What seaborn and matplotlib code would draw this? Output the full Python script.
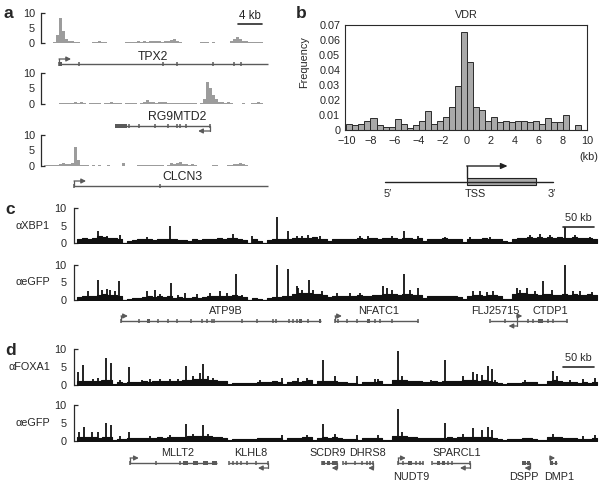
import numpy as np
import pandas as pd
import matplotlib
matplotlib.use("Agg")
import matplotlib.pyplot as plt
from matplotlib.patches import Rectangle
import seaborn as sns

# ---------------- panel a : ChIP signal, 0.5 kb bins ----------------
a_bin = 0.5
tpx2_sig = [0, 0, 0,
            0.3, 2.5, 8.2, 4.0, 1.3, 0.8, 0.5, 0.3, 0.3, 0,
            0, 0, 0, 0.4, 0.3, 0.5, 0.4, 0.3, 0, 0,
            0, 0, 0, 0, 0.3, 0.4, 0.3, 0.4, 0.5, 0.3,
            0.5, 0.4, 0.6, 0.5, 0.8, 0.6, 0.4, 0.7, 0.5, 1.0,
            1.4, 0.6, 0.3, 0, 0, 0, 0, 0, 0, 0.3,
            0.2, 0.3, 0, 0.2, 0, 0, 0, 0, 0, 0.6,
            1.3, 2.0, 1.2, 0.8, 0.5, 0.3, 0.3, 0.2, 0.3, 0.3]
rg9_sig = [0, 0, 0,
           0, 0, 0.2, 0.3, 0.3, 0.4, 0.3, 0.5, 0.4, 0.6,
           0.3, 0, 0.3, 0.4, 0.3, 0.2, 0, 0.3, 0.4, 0.5,
           0.3, 0.4, 0.2, 0, 0.3, 0.4, 0.3, 0.2, 0, 0.3,
           0.5, 1.2, 0.8, 0.5, 0.4, 0.5, 0.7, 0.5, 0.4, 0.3,
           0.4, 0.3, 0.3, 0.4, 0.2, 0.3, 0.3, 0.2, 0, 0.3,
           1.5, 7.0, 5.0, 3.0, 1.5, 0.8, 0.5, 0.4, 0.5, 0.3,
           0, 0, 0, 0.3, 0, 0, 0.3, 0.4, 0.6, 0.4]
clcn3_sig = [0.2, 0.3, 0.3, 0.2, 0.4, 0.6, 1.0, 0.7, 0.8, 1.0,
             6.0, 2.0, 0.4, 0.3, 0.3, 0, 0.3, 0, 0.3, 0,
             0, 0.2, 0, 0, 0, 0, 0.9, 0, 0, 0,
             0, 0.3, 0.3, 0.2, 0.3, 0.3, 0.2, 0.3, 0.3, 0.2,
             0, 0.4, 1.0, 0.6, 0.9, 1.2, 0.6, 0.5, 0.4, 0.5,
             0.3, 0, 0, 0, 0, 0, 0.3, 0.3, 0, 0,
             0, 0.3, 0.3, 0.5, 0.6, 1.0, 0.5, 0.4, 0, 0,
             0, 0, 0]

# gene models, panel a (kb)
tpx2_span, tpx2_exons = (2.5, 37.3), [2.5, 5.9, 19.8, 22.1, 28.1, 31.7, 32.8]
rg9_span, rg9_exons = (11.8, 27.7), [14.2, 15.9, 18.5, 20.6, 22.1, 22.7, 23.6, 27.7]
clcn3_span, clcn3_exons = (5.0, 37.3), [5.0, 19.3]

# ---------------- panel b : VDR peak distance to TSS ----------------
vdr_edges = [x / 2 for x in range(-20, 21)]
vdr_freq = [0.004, 0.003, 0.004, 0.006, 0.008, 0.003, 0.002, 0.002, 0.007, 0.004,
            0.001, 0.003, 0.006, 0.0125, 0.004, 0.006, 0.0085, 0.015, 0.029, 0.065,
            0.045, 0.015, 0.0135, 0.006, 0.0085, 0.005, 0.006, 0.005, 0.006, 0.006,
            0.005, 0.006, 0.004, 0.0078, 0.005, 0.005, 0.0098, 0, 0.003, 0]

# ---------------- panels c, d : ChIP-chip tracks, 8 kb bins ----------------
cd_bin = 8.0
xbp1_base = [1.2, 1.4, 1.2, 1.5, 2.0, 1.8, 1.5, 1.3, 1.2, 0,
             0.5, 0.8, 1.0, 1.0, 1.2, 0.9, 1.1, 1.0, 1.2, 1.0,
             0.8, 0.9, 0.7, 1.0, 0.8, 1.1, 1.0, 1.2, 1.3, 1.2,
             1.4, 1.5, 1.0, 0.8, 0, 1.0, 0.7, 0, 0.8, 1.0,
             1.0, 1.1, 1.2, 1.3, 1.5, 1.4, 1.3, 1.6, 1.2, 1.1,
             0.7, 1.0, 1.1, 1.0, 1.2, 1.1, 1.3, 1.2, 1.4, 1.3,
             1.2, 1.4, 1.3, 1.5, 1.2, 1.5, 1.4, 1.2, 1.3, 0.6,
             1.0, 1.2, 1.1, 1.3, 1.2, 1.1, 1.0, 0.3, 1.0, 1.2,
             1.1, 1.3, 1.2, 1.1, 1.0, 0.5, 0.3, 1.2, 1.5, 1.4,
             1.6, 1.5, 1.7, 1.5, 1.8, 1.4, 1.6, 1.5, 1.4, 1.6,
             1.3, 1.5, 1.4, 1.2]
xbp1_peak_kb = [33, 47.5, 69, 112.5, 149, 250, 280, 319.5, 337, 351.5,
                359.5, 370, 389, 453, 466, 503.5, 523, 545.6, 589, 629,
                661, 725, 741, 757, 781, 797, 821]
xbp1_peak_h = [3.5, 2.0, 2.2, 1.6, 5.0, 2.6, 2.0, 7.5, 3.5, 2.0,
               2.0, 2.2, 2.0, 2.0, 2.0, 2.0, 3.5, 2.0, 1.7, 1.8,
               1.7, 2.2, 2.5, 2.2, 4.5, 2.2, 1.8]

gfp_c_base = [0.9, 1.1, 1.0, 1.2, 1.5, 1.6, 1.5, 1.3, 1.2, 0,
              0.3, 0.5, 0.6, 0.8, 1.0, 0.9, 1.0, 0.8, 1.0, 0.7,
              0.8, 0.7, 0.6, 0.9, 0.7, 0.8, 1.0, 1.1, 1.2, 1.0,
              1.2, 1.3, 1.0, 0.8, 0, 0.6, 0.4, 0, 0.7, 0.8,
              0.9, 1.0, 1.2, 1.8, 2.0, 1.9, 2.0, 1.8, 1.6, 1.5,
              0.8, 1.1, 1.2, 1.1, 1.2, 1.0, 1.3, 1.2, 1.2, 1.3,
              1.4, 1.8, 1.7, 1.6, 1.5, 1.6, 1.6, 1.4, 1.5, 0.6,
              1.0, 1.1, 1.0, 1.2, 1.1, 1.0, 0.9, 0.3, 1.2, 1.4,
              1.3, 1.2, 1.4, 1.3, 1.2, 0.4, 0.2, 1.8, 2.0, 1.9,
              1.8, 1.7, 1.5, 1.8, 1.6, 1.4, 1.5, 1.6, 1.5, 1.7,
              1.4, 1.5, 1.6, 1.3]
gfp_c_peak_kb = [17.6, 33, 39.5, 47.5, 53, 61, 67.7, 112, 125, 133,
                 150, 161.6, 173, 192, 213, 229, 239.5, 254.4, 263.5, 319.5,
                 338, 351.5, 354, 359.5, 371, 378, 391.5, 416, 437, 453,
                 490, 495.5, 503.5, 523, 533, 546, 634, 645, 655.5, 666,
                 703.5, 709, 719.5, 733, 746, 759.5, 781, 794, 805, 823.5]
gfp_c_peak_h = [2.5, 5.7, 3.0, 3.2, 3.0, 2.6, 5.5, 2.5, 3.0, 1.8,
                5.0, 1.5, 2.0, 1.6, 2.0, 2.5, 2.0, 7.3, 1.5, 10.0,
                9.0, 4.0, 3.5, 3.0, 5.8, 3.0, 2.5, 2.0, 2.0, 2.0,
                4.0, 3.5, 3.0, 7.5, 3.0, 3.5, 2.5, 2.5, 2.3, 2.5,
                3.5, 3.0, 3.3, 2.5, 5.3, 3.0, 10.0, 2.5, 2.5, 2.3]

foxa1_base = [1.2, 1.0, 1.1, 1.2, 1.0, 1.3, 1.4, 0.2, 0.7, 0.6,
              0.9, 0.8, 0.9, 1.0, 0.9, 1.0, 1.1, 1.0, 1.2, 1.1,
              1.2, 1.3, 1.5, 1.6, 1.7, 1.6, 1.5, 1.3, 1.2, 1.0,
              0.3, 0.6, 0.6, 0.5, 0.6, 0.5, 0.8, 0.9, 0.9, 1.0,
              0.9, 0.3, 0.9, 1.0, 0.8, 1.2, 1.3, 0.4, 1.0, 1.1,
              1.0, 1.1, 0.8, 0.7, 0.5, 0.6, 0.3, 0.8, 0.8, 0.9,
              1.0, 0.3, 0.2, 1.4, 1.5, 1.4, 1.2, 1.1, 1.0, 0.9,
              0.9, 1.0, 0.8, 1.0, 1.1, 1.0, 1.1, 1.3, 1.4, 1.4,
              1.2, 1.3, 1.1, 0.7, 0.5, 0.4, 0.6, 0.5, 0.6, 0.8,
              0.9, 0.7, 0.2, 0.3, 1.2, 1.4, 1.1, 0.9, 0.9, 0.8,
              0.6, 0.7, 0.6, 0.8]
foxa1_peak_kb = [2, 10, 26, 33.6, 39.5, 46, 54, 69, 83, 103.5,
                 117, 133, 149, 162, 174.4, 186, 197, 202, 210, 218,
                 293, 327.5, 354, 367.5, 394, 413, 447.5, 477, 482, 514,
                 519.5, 566, 589, 618, 634, 639.5, 647.5, 658, 663.5, 669,
                 717, 762, 767.5, 789, 810, 829]
foxa1_peak_h = [3.5, 5.5, 1.8, 2.0, 1.5, 7.5, 6.0, 1.5, 5.0, 1.5,
                1.6, 1.7, 1.6, 1.6, 5.3, 2.5, 3.3, 5.7, 2.5, 2.0,
                1.5, 2.0, 2.0, 2.0, 7.0, 2.5, 2.5, 1.8, 1.8, 9.5,
                2.5, 1.5, 7.0, 2.5, 3.5, 3.0, 2.8, 5.3, 4.5, 1.5,
                1.5, 4.0, 2.5, 1.3, 1.8, 2.0]

gfp_d_base = [1.0, 1.1, 1.0, 1.1, 0.9, 1.2, 1.2, 0.2, 0.6, 0.5,
              0.8, 0.8, 0.8, 0.9, 0.8, 0.9, 1.0, 0.9, 1.0, 1.0,
              1.1, 1.2, 1.3, 1.4, 1.5, 1.4, 1.4, 1.2, 1.1, 0.9,
              0.3, 0.5, 0.6, 0.5, 0.5, 0.5, 0.7, 0.8, 0.8, 0.9,
              0.8, 0.3, 0.8, 0.9, 0.7, 1.1, 1.1, 0.3, 0.9, 1.0,
              0.9, 1.0, 0.7, 0.6, 0.5, 0.5, 0.3, 0.7, 0.8, 0.8,
              0.9, 0.3, 0.2, 1.3, 1.4, 1.3, 1.1, 1.0, 0.9, 0.8,
              0.9, 0.9, 0.8, 0.9, 1.0, 0.9, 1.0, 1.1, 1.2, 1.2,
              1.1, 1.2, 1.0, 0.7, 0.5, 0.4, 0.5, 0.5, 0.6, 0.7,
              0.8, 0.6, 0.2, 0.3, 1.0, 1.2, 1.0, 0.8, 0.8, 0.7,
              0.6, 0.6, 0.6, 0.7]
gfp_d_peak_kb = [3.7, 11, 23.5, 33.6, 46, 54, 69, 83, 117, 149,
                 174.4, 186, 202, 210, 327.5, 367.5, 394, 413, 447.5, 482,
                 514, 519.5, 589, 618, 634, 647.5, 658, 663.5, 762, 810,
                 829]
gfp_d_peak_h = [2.5, 3.8, 2.5, 2.5, 5.0, 4.5, 1.5, 2.5, 1.5, 1.6,
                4.7, 2.0, 4.5, 2.0, 1.8, 1.8, 4.8, 2.0, 1.8, 1.8,
                9.0, 2.5, 5.0, 2.0, 3.5, 3.0, 4.0, 3.0, 2.0, 1.5,
                1.8]

# gene models, panel c (kb)
atp9b_span = (70.4, 390.4)
atp9b_exons = [70.4, 99.2, 130.1, 146.1, 160.5, 182.4, 199.5, 207.5, 215.5, 219.2,
               263.5, 287.5, 314.1, 317.9, 339.7, 345.1, 351.5, 370.1]
atp9b_boxes = [(111.5, 116.5), (355.5, 360.5), (386.4, 390.4)]
nfatc1_span = (412.8, 546.1)
nfatc1_exons = [412.8, 417.1, 431.5, 447.5, 476.8, 484.8, 503.5, 546.1]
nfatc1_boxes = [(463.5, 468.5)]
flj_span, flj_exons = (660.8, 703.5), [660.8, 684.8]
ctdp1_span = (703.5, 783.5)
ctdp1_exons = [722, 730, 754, 762, 783.5]
ctdp1_boxes = [(737.6, 745.6)]

# gene models, panel d (kb)
mllt2_span, mllt2_exons = (84.8, 223.5), [84.8, 126.4, 164.8]
mllt2_boxes = [(169.6, 177.6), (185.6, 193.6), (201.6, 209.6), (215.5, 223.5)]
klhl8_span, klhl8_exons = (243.2, 305.6), [243.2, 249.6, 256, 262.4, 272, 286.4, 305.6]
scdr9_span, scdr9_exons = (391.5, 415.5), [391.5, 415.5]
scdr9_boxes = [(391.5, 397), (400, 404), (408, 415.5)]
dhrs8_span, dhrs8_exons = (426, 474), [426, 430.4, 444.8, 455.5, 463.5, 468.8, 474]
nudt9_span, nudt9_exons = (514, 553.6), [514, 522, 542.4, 548.8, 553.6]
nudt9_boxes = [(529.6, 536)]
sparcl1_span, sparcl1_exons = (567.5, 628.8), [567.5, 594, 599.5, 628.8]
sparcl1_boxes = [(575.5, 580.8), (583.5, 588.8)]
dspp_span, dspp_boxes = (712, 724), [(712, 718), (720, 724)]
dmp1_span, dmp1_boxes = (757, 767.5), [(757, 762), (764, 767.5)]

# ---------------- figure ----------------
sns.set_style("white")
plt.rcParams["font.family"] = ["Liberation Sans", "DejaVu Sans"]
plt.rcParams["font.size"] = 7.8

W, H = 600, 486
fig = plt.figure(figsize=(6, 4.86), dpi=100)
GENE = "#5a5a5a"
AX = "#2a2a2a"
A_FS = 8.8   # gene labels in panel a are set a little larger


def px_axes(x0, y0, x1, y1):
    return fig.add_axes([x0 / W, 1 - y1 / H, (x1 - x0) / W, (y1 - y0) / H])


def ftext(x, y, s, **kw):
    fig.text(x / W, 1 - y / H, s, **kw)


def binned(edges, values):
    edges = np.asarray(edges, dtype=float)
    return pd.DataFrame({"pos": (edges[:-1] + edges[1:]) / 2,
                         "val": np.asarray(values, dtype=float)})


def style_track(ax, xlim, pad):
    ax.set_xlim(*xlim)
    ax.set_ylim(0, 10)
    ax.set_xlabel("")
    ax.set_ylabel("")
    for s in ["top", "right", "bottom"]:
        ax.spines[s].set_visible(False)
    ax.spines["left"].set_color(AX)
    ax.spines["left"].set_linewidth(0.9)
    ax.set_xticks([])
    ax.set_yticks([0, 10])
    ax.set_yticklabels(["0", "10"])
    ax.set_yticks([5], minor=True)
    ax.set_yticklabels(["5"], minor=True)
    ax.tick_params(axis="y", which="major", left=True, direction="in", length=3,
                   width=0.9, color=AX, pad=pad, labelsize=7.8)
    ax.tick_params(axis="y", which="minor", left=True, length=0, pad=pad, labelsize=7.8)
    ax.patch.set_alpha(0)


def draw_gene(ax, span, exons, y, strand=None, boxes=(), arrow_len=2.0, tick=2.4):
    ax.plot(span, [y, y], color=GENE, lw=1.0, solid_capstyle="butt")
    if len(exons):
        ax.vlines(exons, y - tick, y + tick, color=GENE, lw=1.1)
    for b0, b1 in boxes:
        ax.add_patch(Rectangle((b0, y - tick), b1 - b0, 2 * tick, color=GENE, lw=0))
    if strand is None:
        return
    if strand == "+":
        x0, dy, x1 = span[0], -5, span[0] + arrow_len
    else:
        x0, dy, x1 = span[1], 5, span[1] - arrow_len
    ax.plot([x0, x0], [y, y + dy], color=GENE, lw=0.9)
    ax.annotate("", xy=(x1, y + dy), xytext=(x0, y + dy),
                arrowprops=dict(arrowstyle="-|>,head_length=0.35,head_width=0.18",
                                color=GENE, lw=0.9, shrinkA=0, shrinkB=0))


# ---- panel a ----
a_edges = [i * a_bin for i in range(len(clcn3_sig) + 1)]
a_xlim = (-0.5, 37.67)
for sig, (y0, y1) in zip([tpx2_sig, rg9_sig, clcn3_sig], [(13, 43), (73, 104), (135, 166)]):
    ax = px_axes(41, y0, 270, y1)
    sns.histplot(data=binned(a_edges, sig), x="pos", weights="val", bins=a_edges,
                 element="bars", fill=True, color="#9c9c9c", alpha=1, linewidth=0, ax=ax)
    style_track(ax, a_xlim, 4.3)

a_ov = px_axes(41, 0, 270, 195)
a_ov.set_xlim(*a_xlim)
a_ov.set_ylim(195, 0)
a_ov.axis("off")
draw_gene(a_ov, tpx2_span, tpx2_exons, 64, "+", boxes=[(2.5, 3.0)])
draw_gene(a_ov, rg9_span, rg9_exons, 126, "-", boxes=[(11.8, 13.8)])
draw_gene(a_ov, clcn3_span, clcn3_exons, 186, "+")
a_ov.text(18.2, 57, "TPX2", ha="center", va="center", fontsize=A_FS)
a_ov.text(22.2, 117, "RG9MTD2", ha="center", va="center", fontsize=A_FS)
a_ov.text(23.0, 177, "CLCN3", ha="center", va="center", fontsize=A_FS)
a_ov.plot([32.3, 36.3], [24, 24], color=AX, lw=1.2)
a_ov.text(34.3, 16, "4 kb", ha="center", va="center", fontsize=8.3)

# ---- panel b ----
bx = px_axes(345, 25, 587, 130)
sns.histplot(data=binned(vdr_edges, vdr_freq), x="pos", weights="val", bins=vdr_edges,
             color="#a9a9a9", edgecolor="#2b2b2b", linewidth=0.7, alpha=1, ax=bx)
bx.set_xlim(-10.12, 10)
bx.set_ylim(0, 0.07)
bx.set_xticks(range(-10, 11, 2))
bx.set_xticklabels([str(v).replace("-", "\u2212") for v in range(-10, 11, 2)])
bx.set_yticks(np.arange(0, 0.071, 0.01))
bx.set_yticklabels(["0"] + [f"{v:.2f}" for v in np.arange(0.01, 0.071, 0.01)])
bx.tick_params(axis="y", length=0, pad=3.5, labelsize=7.8)
bx.tick_params(axis="x", length=0, pad=4, labelsize=7.8)
bx.set_xlabel("")
bx.set_ylabel("Frequency")
bx.yaxis.set_label_coords(-0.15, 0.65)
for s in bx.spines.values():
    s.set_color(AX)
    s.set_linewidth(0.8)
bx.set_title("VDR", fontsize=7.8, pad=5)
ftext(598, 157, "(kb)", ha="right", va="center")

tss = px_axes(345, 150, 587, 205)
tss.set_xlim(-10.12, 10)
tss.set_ylim(205, 150)
tss.axis("off")
tss.plot([-6.8, 7.2], [182, 182], color="#222222", lw=1.0)
tss.add_patch(Rectangle((0, 178), 5.8, 7, facecolor="#a9a9a9", edgecolor="#222222", lw=0.8))
tss.plot([0, 0], [178, 166], color="#222222", lw=1.0)
tss.annotate("", xy=(3.4, 166), xytext=(0, 166),
             arrowprops=dict(arrowstyle="-|>,head_length=0.5,head_width=0.22",
                             color="#222222", lw=1.0, shrinkA=0, shrinkB=0))
tss.text(-6.6, 194, "5\u2032", ha="center", va="center")
tss.text(0.7, 194, "TSS", ha="center", va="center")
tss.text(7.1, 194, "3\u2032", ha="center", va="center")

# ---- panels c, d ----
cd_edges = [i * cd_bin for i in range(len(xbp1_base) + 1)]
cd_xlim = (-4.8, 833.6)


def chip_track(y0, y1, base, peak_kb, peak_h):
    ax = px_axes(74, y0, 598, y1)
    sns.histplot(data=binned(cd_edges, base), x="pos", weights="val", bins=cd_edges,
                 element="step", fill=True, color="#111111", alpha=1, linewidth=0.8, ax=ax)
    ax.vlines(peak_kb, 0, peak_h, color="#111111", lw=1.3)
    style_track(ax, cd_xlim, 5.2)
    return ax


chip_track(208, 243, xbp1_base, xbp1_peak_kb, xbp1_peak_h)
chip_track(265, 300, gfp_c_base, gfp_c_peak_kb, gfp_c_peak_h)
chip_track(349, 385, foxa1_base, foxa1_peak_kb, foxa1_peak_h)
chip_track(405, 441, gfp_d_base, gfp_d_peak_kb, gfp_d_peak_h)

ftext(50, 225.5, "\u03b1XBP1", ha="right", va="center")
ftext(50, 282, "\u03b1eGFP", ha="right", va="center")
ftext(50, 367, "\u03b1FOXA1", ha="right", va="center")
ftext(50, 423, "\u03b1eGFP", ha="right", va="center")

c_ov = px_axes(74, 200, 598, 345)
c_ov.set_xlim(*cd_xlim)
c_ov.set_ylim(345, 200)
c_ov.axis("off")
draw_gene(c_ov, atp9b_span, atp9b_exons, 321, "+", atp9b_boxes, arrow_len=11)
draw_gene(c_ov, nfatc1_span, nfatc1_exons, 321, "+", nfatc1_boxes, arrow_len=11)
draw_gene(c_ov, flj_span, flj_exons, 321, "-", arrow_len=13)
draw_gene(c_ov, ctdp1_span, ctdp1_exons, 321, "+", ctdp1_boxes, arrow_len=9)
for x, s in [(238.4, "ATP9B"), (483, "NFATC1"), (670, "FLJ25715"), (758, "CTDP1")]:
    c_ov.text(x, 311, s, ha="center", va="center")
c_ov.plot([777, 827], [227, 227], color=AX, lw=1.2)
c_ov.text(802, 218, "50 kb", ha="center", va="center")

d_ov = px_axes(74, 345, 598, 486)
d_ov.set_xlim(*cd_xlim)
d_ov.set_ylim(486, 345)
d_ov.axis("off")
draw_gene(d_ov, mllt2_span, mllt2_exons, 463, "+", mllt2_boxes, arrow_len=14)
draw_gene(d_ov, klhl8_span, klhl8_exons, 463, "-", arrow_len=16)
draw_gene(d_ov, scdr9_span, scdr9_exons, 463, "-", scdr9_boxes, arrow_len=8)
draw_gene(d_ov, dhrs8_span, dhrs8_exons, 463, "-", arrow_len=8)
draw_gene(d_ov, nudt9_span, nudt9_exons, 463, "+", nudt9_boxes, arrow_len=12)
draw_gene(d_ov, sparcl1_span, sparcl1_exons, 463, "-", sparcl1_boxes, arrow_len=16)
draw_gene(d_ov, dspp_span, [], 463, "-", dspp_boxes, arrow_len=8)
draw_gene(d_ov, dmp1_span, [], 463, "+", dmp1_boxes, arrow_len=8)
for x, s in [(161.6, "MLLT2"), (278.4, "KLHL8"), (401.6, "SCDR9"), (465.6, "DHRS8"),
             (608, "SPARCL1")]:
    d_ov.text(x, 453, s, ha="center", va="center")
for x, s in [(534.4, "NUDT9"), (715, "DSPP"), (771, "DMP1")]:
    d_ov.text(x, 477, s, ha="center", va="center")
d_ov.plot([777, 827], [367, 367], color=AX, lw=1.2)
d_ov.text(802, 358, "50 kb", ha="center", va="center")

# panel letters
for x, y, s in [(3, 13, "a"), (296, 14, "b"), (5, 210, "c"), (5, 350, "d")]:
    ftext(x, y, s, ha="left", va="center", fontsize=12.5, fontweight="bold")

fig.savefig("out.png", dpi=100)
